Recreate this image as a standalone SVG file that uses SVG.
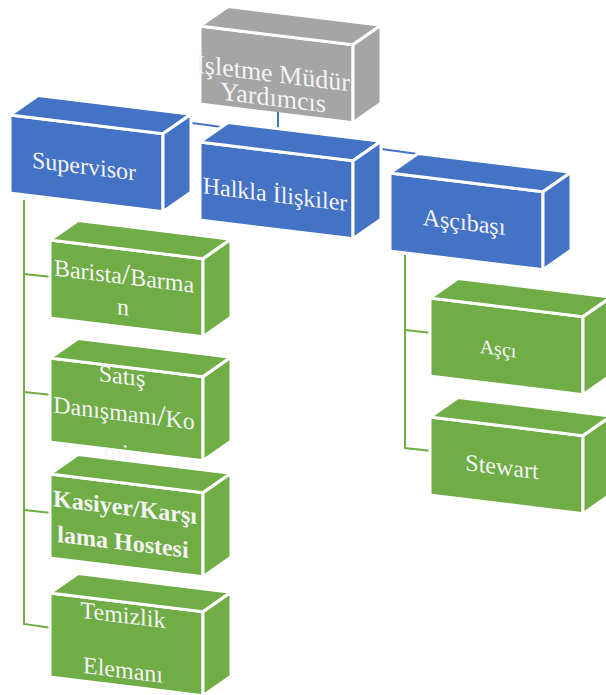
<svg xmlns="http://www.w3.org/2000/svg" xmlns:xlink="http://www.w3.org/1999/xlink" width="606" height="695" viewBox="0 0 606 695">
  <style>
    .face { stroke: #ffffff; stroke-width: 3; stroke-linejoin: round; }
    .gray { fill: #a5a5a5; }
    .blue { fill: #4472c4; }
    .green { fill: #70ad47; }
    .lbl { font-family: "Liberation Serif", "Times New Roman", serif; font-size: 24px; fill: #f4f4f4; text-anchor: middle; }
    .big { font-size: 30px; }
    .bold { font-weight: bold; }
    .wire { fill: none; stroke-width: 2; }
    .wire-blue { stroke: #4472c4; }
    .wire-green { stroke: #70ad47; }
  </style>
  <defs>
    <!-- front face of a cuboid, in the box's own sheared frame -->
    <rect id="front" class="face" x="0" y="0" width="153" height="78"/>
    <!-- lid and right side of the cuboid -->
    <g id="lid">
      <polygon class="face" points="0,0 153,0 181,-23 28,-23"/>
      <polygon class="face" points="153,0 181,-23 181,55 153,78"/>
    </g>
    <!-- taller variant for the lower boxes of the left column -->
    <rect id="front-tall" class="face" x="0" y="0" width="153" height="84"/>
    <g id="lid-tall">
      <polygon class="face" points="0,0 153,0 181,-23 28,-23"/>
      <polygon class="face" points="153,0 181,-23 181,61 153,84"/>
    </g>
  </defs>

  <!-- top level -->
  <g id="node-mudur-yardimcisi" class="gray" transform="translate(200,26) skewY(7)">
    <use xlink:href="#front"/>
    <text class="lbl" style="font-size:26px" x="73" y="47">İşletme Müdür</text>
    <text class="lbl" style="font-size:26px" x="73" y="71">Yardımcıs</text>
    <use xlink:href="#lid"/>
  </g>

  <!-- connectors -->
  <g id="connectors">
    <line class="wire wire-blue" x1="185" y1="122" x2="425" y2="155"/>
    <line class="wire wire-blue" x1="278" y1="112" x2="278" y2="138"/>
    <polyline class="wire wire-green" points="24,200 24,624 52,628"/>
    <line class="wire wire-green" x1="24" y1="274" x2="52" y2="277"/>
    <line class="wire wire-green" x1="24" y1="392" x2="52" y2="395"/>
    <line class="wire wire-green" x1="24" y1="510" x2="52" y2="513"/>
    <polyline class="wire wire-green" points="405,255 405,448 432,451"/>
    <line class="wire wire-green" x1="405" y1="330" x2="432" y2="333"/>
  </g>

  <!-- second level -->
  <g id="node-supervisor" class="blue" transform="translate(10,115) skewY(7)">
    <use xlink:href="#front"/>
    <text class="lbl" x="74" y="50">Supervisor</text>
    <use xlink:href="#lid"/>
  </g>
  <g id="node-halkla-iliskiler" class="blue" transform="translate(200,142) skewY(7)">
    <use xlink:href="#front"/>
    <text class="lbl" x="75" y="51">Halkla İlişkiler</text>
    <use xlink:href="#lid"/>
  </g>
  <g id="node-ascibasi" class="blue" transform="translate(390,173) skewY(7)">
    <use xlink:href="#front"/>
    <text class="lbl" x="74" y="48">Aşçıbaşı</text>
    <use xlink:href="#lid"/>
  </g>

  <!-- staff under Supervisor -->
  <g id="node-barista" class="green" transform="translate(50,240) skewY(7)">
    <use xlink:href="#front"/>
    <text class="lbl" x="74" y="35">Barista<tspan class="big">/</tspan>Barma</text>
    <text class="lbl" x="73" y="66">n</text>
    <use xlink:href="#lid"/>
  </g>
  <g id="node-satis" class="green" transform="translate(50,358) skewY(7)">
    <use xlink:href="#front-tall"/>
    <text class="lbl" x="72" y="17">Satış</text>
    <text class="lbl" x="74" y="54">Danışmanı<tspan class="big">/</tspan>Ko</text>
    <text class="lbl" x="66" y="94">mi</text>
    <use xlink:href="#lid-tall"/>
  </g>
  <g id="node-kasiyer" class="green" transform="translate(50,474) skewY(7)">
    <use xlink:href="#front-tall"/>
    <text class="lbl bold" x="75" y="32">Kasiyer/Karşı</text>
    <text class="lbl bold" x="73" y="67">lama Hostesi</text>
    <use xlink:href="#lid-tall"/>
  </g>
  <g id="node-temizlik" class="green" transform="translate(50,593) skewY(7)">
    <use xlink:href="#front-tall"/>
    <text class="lbl" x="73" y="21">Temizlik</text>
    <text class="lbl" x="73" y="76">Elemanı</text>
    <use xlink:href="#lid-tall"/>
  </g>

  <!-- staff under Aşçıbaşı -->
  <g id="node-asci" class="green" transform="translate(430,298) skewY(7)">
    <use xlink:href="#front"/>
    <text class="lbl" style="font-size:20px" x="68" y="49">Aşçı</text>
    <use xlink:href="#lid"/>
  </g>
  <g id="node-stewart" class="green" transform="translate(430,417) skewY(7)">
    <use xlink:href="#front"/>
    <text class="lbl" x="72" y="49">Stewart</text>
    <use xlink:href="#lid"/>
  </g>
</svg>
